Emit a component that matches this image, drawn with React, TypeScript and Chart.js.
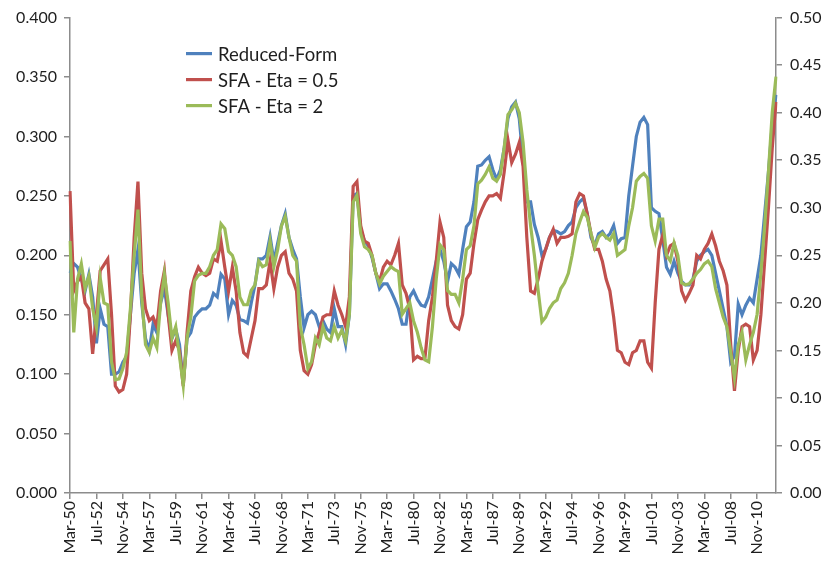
import React, { useEffect, useRef } from "react";
import { Chart, registerables } from "chart.js";

Chart.register(...registerables);

// Categories: every 4 months, starting Mar-1950
const MONTHS = ["Mar", "Jul", "Nov"];
const START_YEAR = 1950;
const N_POINTS = 188;
const categories: string[] = Array.from({ length: N_POINTS }, (_, i) =>
  `${MONTHS[i % 3]}-${String((START_YEAR + Math.floor(i / 3)) % 100).padStart(2, "0")}`
);
const LABEL_EVERY = 7;

// Left axis ticks
const leftMin = 0;
const leftMax = 0.4;
const leftStep = 0.05;
// Right axis ticks
const rightMin = 0;
const rightMax = 0.5;
const rightStep = 0.05;

// Reduced-Form (left axis)
const reducedForm: number[] = [
  0.185, 0.193, 0.190, 0.180, 0.170, 0.184, 0.165, 0.126, 0.155, 0.142,
  0.140, 0.100, 0.100, 0.102, 0.110, 0.115, 0.150, 0.185, 0.205, 0.160,
  0.130, 0.120, 0.142, 0.135, 0.160, 0.172, 0.150, 0.130, 0.138, 0.125,
  0.092, 0.130, 0.135, 0.148, 0.152, 0.155, 0.155, 0.158, 0.168, 0.165,
  0.184, 0.180, 0.150, 0.162, 0.158, 0.146, 0.145, 0.143, 0.160, 0.175,
  0.197, 0.197, 0.200, 0.216, 0.195, 0.210, 0.225, 0.235, 0.215, 0.205,
  0.197, 0.165, 0.139, 0.150, 0.153, 0.150, 0.140, 0.145, 0.138, 0.135,
  0.155, 0.140, 0.140, 0.125, 0.150, 0.250, 0.252, 0.222, 0.212, 0.208,
  0.198, 0.185, 0.172, 0.176, 0.176, 0.170, 0.163, 0.155, 0.142, 0.142,
  0.165, 0.170, 0.163, 0.158, 0.157, 0.165, 0.180, 0.195, 0.205, 0.195,
  0.178, 0.193, 0.190, 0.184, 0.205, 0.224, 0.228, 0.245, 0.275, 0.276,
  0.280, 0.283, 0.272, 0.264, 0.272, 0.290, 0.315, 0.325, 0.329, 0.315,
  0.280, 0.245, 0.245, 0.226, 0.215, 0.200, 0.205, 0.215, 0.221, 0.220,
  0.218, 0.220, 0.225, 0.228, 0.240, 0.245, 0.248, 0.235, 0.215, 0.208,
  0.218, 0.220, 0.215, 0.218, 0.225, 0.210, 0.214, 0.215, 0.250, 0.275,
  0.300, 0.312, 0.316, 0.310, 0.240, 0.237, 0.235, 0.213, 0.190, 0.184,
  0.195, 0.185, 0.178, 0.175, 0.175, 0.180, 0.195, 0.200, 0.203, 0.205,
  0.200, 0.185, 0.170, 0.155, 0.140, 0.110, 0.115, 0.159, 0.150, 0.158,
  0.164, 0.160, 0.180, 0.200, 0.235, 0.270, 0.310, 0.335,
];

// SFA - Eta = 0.5 (left axis)
const sfaEta05: number[] = [
  0.254, 0.170, 0.178, 0.182, 0.160, 0.155, 0.117, 0.150, 0.187, 0.192,
  0.197, 0.150, 0.090, 0.085, 0.087, 0.100, 0.150, 0.215, 0.262, 0.185,
  0.155, 0.145, 0.148, 0.140, 0.170, 0.187, 0.150, 0.120, 0.128, 0.120,
  0.090, 0.135, 0.170, 0.182, 0.190, 0.185, 0.183, 0.185, 0.197, 0.195,
  0.212, 0.190, 0.170, 0.190, 0.170, 0.135, 0.118, 0.115, 0.130, 0.145,
  0.172, 0.172, 0.175, 0.195, 0.172, 0.190, 0.200, 0.203, 0.185, 0.180,
  0.170, 0.120, 0.103, 0.100, 0.108, 0.125, 0.135, 0.148, 0.150, 0.150,
  0.170, 0.158, 0.150, 0.140, 0.165, 0.258, 0.262, 0.225, 0.212, 0.210,
  0.200, 0.185, 0.178, 0.190, 0.195, 0.192, 0.200, 0.210, 0.175, 0.168,
  0.155, 0.112, 0.115, 0.113, 0.113, 0.145, 0.165, 0.195, 0.228, 0.215,
  0.158, 0.145, 0.140, 0.138, 0.150, 0.180, 0.185, 0.210, 0.230, 0.238,
  0.245, 0.250, 0.250, 0.252, 0.248, 0.270, 0.297, 0.278, 0.285, 0.295,
  0.275, 0.215, 0.170, 0.168, 0.180, 0.195, 0.205, 0.215, 0.222, 0.210,
  0.215, 0.215, 0.216, 0.218, 0.245, 0.252, 0.250, 0.235, 0.218, 0.205,
  0.205, 0.195, 0.180, 0.170, 0.148, 0.120, 0.118, 0.110, 0.108, 0.118,
  0.120, 0.128, 0.128, 0.110, 0.105, 0.160, 0.205, 0.217, 0.200, 0.208,
  0.210, 0.195, 0.170, 0.162, 0.168, 0.175, 0.200, 0.197, 0.205, 0.210,
  0.218, 0.208, 0.195, 0.187, 0.175, 0.125, 0.086, 0.120, 0.140, 0.142,
  0.140, 0.112, 0.120, 0.150, 0.195, 0.240, 0.290, 0.329,
];

// SFA - Eta = 2 (right axis)
const sfaEta2: number[] = [
  0.265, 0.169, 0.225, 0.241, 0.215, 0.228, 0.194, 0.174, 0.226, 0.200,
  0.198, 0.138, 0.119, 0.120, 0.131, 0.148, 0.194, 0.250, 0.298, 0.206,
  0.156, 0.148, 0.163, 0.153, 0.200, 0.230, 0.200, 0.163, 0.175, 0.144,
  0.113, 0.163, 0.185, 0.223, 0.229, 0.231, 0.231, 0.238, 0.250, 0.256,
  0.283, 0.278, 0.254, 0.250, 0.238, 0.206, 0.198, 0.198, 0.213, 0.219,
  0.244, 0.238, 0.240, 0.265, 0.238, 0.256, 0.281, 0.291, 0.269, 0.250,
  0.244, 0.175, 0.156, 0.131, 0.138, 0.163, 0.156, 0.175, 0.163, 0.160,
  0.175, 0.163, 0.171, 0.160, 0.188, 0.306, 0.313, 0.273, 0.259, 0.256,
  0.250, 0.231, 0.220, 0.228, 0.233, 0.238, 0.235, 0.233, 0.188, 0.194,
  0.200, 0.181, 0.169, 0.153, 0.140, 0.138, 0.175, 0.225, 0.261, 0.256,
  0.213, 0.209, 0.209, 0.200, 0.225, 0.256, 0.260, 0.281, 0.325, 0.329,
  0.335, 0.343, 0.331, 0.328, 0.335, 0.363, 0.398, 0.403, 0.410, 0.400,
  0.369, 0.319, 0.281, 0.250, 0.213, 0.180, 0.185, 0.194, 0.200, 0.203,
  0.215, 0.221, 0.231, 0.250, 0.273, 0.285, 0.296, 0.290, 0.273, 0.258,
  0.269, 0.273, 0.269, 0.266, 0.273, 0.250, 0.253, 0.256, 0.281, 0.300,
  0.328, 0.333, 0.336, 0.331, 0.281, 0.265, 0.288, 0.288, 0.250, 0.244,
  0.263, 0.250, 0.221, 0.219, 0.220, 0.225, 0.231, 0.235, 0.241, 0.244,
  0.238, 0.215, 0.200, 0.185, 0.175, 0.148, 0.121, 0.156, 0.169, 0.140,
  0.156, 0.169, 0.188, 0.231, 0.281, 0.338, 0.400, 0.438,
];

const seriesNames = ["Reduced-Form", "SFA - Eta = 0.5", "SFA - Eta = 2"];
const seriesColors = ["#4F81BD", "#C0504D", "#9BBB59"];

const AXIS_COLOR = "#8C8C8C";
const TEXT_COLOR = "#1e1e1e";
const FONT_FAMILY = "Lato, 'Open Sans', sans-serif";

const legendPlugin = {
  id: "insideLegend",
  afterDatasetsDraw(chart: any) {
    const { ctx, chartArea } = chart;
    const x0 = chartArea.left + 116;
    const y0 = chartArea.top + 36;
    const gap = 26;
    chart.data.datasets.forEach((ds: any, i: number) => {
      const y = y0 + i * gap;
      ctx.save();
      ctx.strokeStyle = ds.borderColor;
      ctx.lineWidth = 3.2;
      ctx.beginPath();
      ctx.moveTo(x0, y);
      ctx.lineTo(x0 + 26, y);
      ctx.stroke();
      ctx.fillStyle = TEXT_COLOR;
      ctx.font = `18.5px ${FONT_FAMILY}`;
      ctx.textBaseline = "middle";
      ctx.textAlign = "left";
      ctx.fillText(ds.label, x0 + 32, y + 1);
      ctx.restore();
    });
  },
};

export default function App() {
  const canvasRef = useRef<HTMLCanvasElement | null>(null);

  useEffect(() => {
    document.body.style.margin = "0";
    const canvas = canvasRef.current;
    if (!canvas) return;
    const tickFont = { family: FONT_FAMILY, size: 16 };
    const lineWidth = 3.2;
    const chart = new Chart(canvas, {
      type: "line",
      data: {
        labels: categories,
        datasets: [
          {
            label: seriesNames[0],
            data: reducedForm,
            borderColor: seriesColors[0],
            backgroundColor: seriesColors[0],
            borderWidth: lineWidth,
            pointRadius: 0,
            tension: 0,
            yAxisID: "y",
            order: 2,
          },
          {
            label: seriesNames[1],
            data: sfaEta05,
            borderColor: seriesColors[1],
            backgroundColor: seriesColors[1],
            borderWidth: lineWidth,
            pointRadius: 0,
            tension: 0,
            yAxisID: "y",
            order: 1,
          },
          {
            label: seriesNames[2],
            data: sfaEta2,
            borderColor: seriesColors[2],
            backgroundColor: seriesColors[2],
            borderWidth: lineWidth,
            pointRadius: 0,
            tension: 0,
            yAxisID: "y2",
            order: 0,
          },
        ],
      },
      options: {
        animation: false,
        responsive: false,
        layout: { padding: { top: 6, left: 0, right: 0, bottom: 0 } },
        plugins: {
          legend: { display: false },
          tooltip: { enabled: false },
        },
        scales: {
          x: {
            type: "category",
            offset: false,
            border: { color: AXIS_COLOR, width: 1.5 },
            grid: {
              drawOnChartArea: false,
              drawTicks: true,
              tickLength: 6,
              lineWidth: 1.5,
              color: (ctx: any) =>
                ctx.index % LABEL_EVERY === 0 ? AXIS_COLOR : "rgba(0,0,0,0)",
            },
            ticks: {
              autoSkip: false,
              minRotation: 90,
              maxRotation: 90,
              padding: 2,
              color: TEXT_COLOR,
              font: tickFont,
              callback: (_v: any, i: number) =>
                i % LABEL_EVERY === 0 ? categories[i] : "",
            },
            afterFit: (s: any) => {
              s.height = 70;
            },
          },
          y: {
            position: "left",
            min: leftMin,
            max: leftMax,
            border: { color: AXIS_COLOR, width: 1.5 },
            grid: {
              drawOnChartArea: false,
              drawTicks: true,
              tickLength: 6,
              lineWidth: 1.5,
              color: AXIS_COLOR,
            },
            ticks: {
              stepSize: leftStep,
              padding: 7,
              color: TEXT_COLOR,
              font: tickFont,
              callback: (v: any) => Number(v).toFixed(3),
            },
            afterFit: (s: any) => {
              s.width = 70;
            },
          },
          y2: {
            position: "right",
            min: rightMin,
            max: rightMax,
            border: { color: AXIS_COLOR, width: 1.5 },
            grid: {
              drawOnChartArea: false,
              drawTicks: true,
              tickLength: 6,
              lineWidth: 1.5,
              color: AXIS_COLOR,
            },
            ticks: {
              stepSize: rightStep,
              padding: 8,
              color: TEXT_COLOR,
              font: tickFont,
              callback: (v: any) => Number(v).toFixed(2),
            },
            afterFit: (s: any) => {
              s.width = 50;
            },
          },
        },
      },
      plugins: [legendPlugin],
    } as any);
    return () => chart.destroy();
  }, []);

  return (
    <div style={{ position: "absolute", left: 0, top: 0, width: 826, height: 563, background: "#fff" }}>
      <canvas ref={canvasRef} width={826} height={563} />
    </div>
  );
}
